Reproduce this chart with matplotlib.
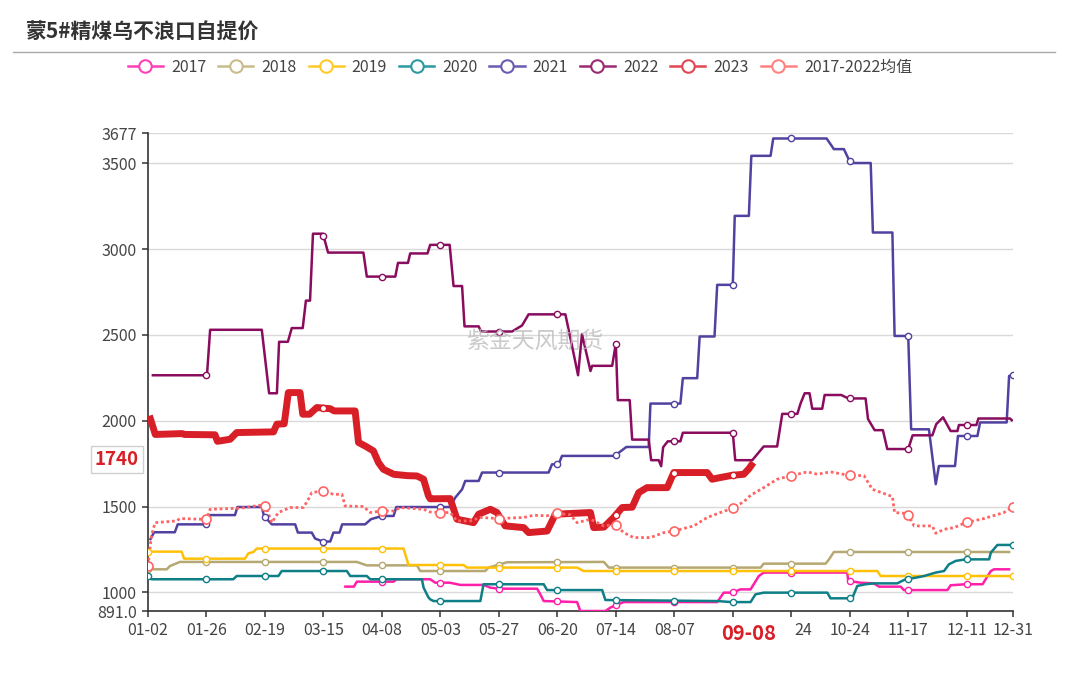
import numpy as np
import matplotlib
matplotlib.use("Agg")
import matplotlib.pyplot as plt
from matplotlib.lines import Line2D
import matplotlib.transforms as mtransforms

plt.rcParams['font.family'] = ['Noto Sans CJK SC', 'DejaVu Sans']

# category index on the x axis (one category per trading day)
tick_idx = [0, 24, 48, 72, 96, 120, 144, 168, 192, 216, 240, 264, 288, 312, 336, 355]
# 08-31 and the "09-" of 09-24 sit under the highlighted 09-08 label in the reference
tick_labels = ['01-02', '01-26', '02-19', '03-15', '04-08', '05-03', '05-27', '06-20',
               '07-14', '08-07', '', '24', '10-24', '11-17', '12-11', '12-31']

x2017 = [81, 84.5, 85.7, 100.8, 102, 115.8, 117.9, 123.8, 128.2, 137.7, 140.5, 143.9, 159.7, 161, 162.4,
         176.1, 177.4, 187.7, 189.8, 191.8, 195.2, 233.6, 236.3, 239.5, 243.2, 247.3, 250.7, 252.7, 287,
         287.4, 292.4, 297.9, 300, 308.9, 310.2, 328.1, 329.4, 335.6, 342.5, 345.9, 347.2, 353.4]
y2017 = [1033, 1033, 1062, 1062, 1076, 1076, 1056, 1056, 1043, 1043, 1027, 1021, 1021, 988, 949,
         943, 891, 891, 911, 924, 943, 943, 998, 998, 1017, 1017, 1095, 1115, 1115,
         1066, 1056, 1052, 1033, 1033, 1013, 1013, 1041, 1047, 1047, 1124, 1134, 1134]

x2018 = [0, 7.7, 9, 13.1, 85.7, 89.8, 110.4, 111.7, 138.4, 139.8, 147.3, 187.1, 189.1, 251.4, 252.7,
         278.1, 279.4, 281.5, 353.4]
y2018 = [1134, 1134, 1153, 1177, 1177, 1157, 1157, 1124, 1124, 1144, 1175, 1177, 1144, 1144, 1167,
         1167, 1190, 1235, 1235]

x2019 = [0, 13.8, 14.8, 39.8, 41.2, 43.3, 44.6, 104.9, 106.9, 129.5, 130.9, 176.1, 178.8, 299.3, 300.7, 355]
y2019 = [1237, 1237, 1196, 1196, 1227, 1235, 1255, 1255, 1159, 1159, 1144, 1144, 1124, 1124, 1095, 1095]

x2020 = [0, 1.4, 35, 36.4, 53.5, 54.9, 81.6, 83, 89.8, 91.2, 112.4, 113.1, 115.1, 115.8, 117.2, 136.4,
         137.7, 162.4, 163.8, 186.4, 187.7, 233.6, 239.5, 247.3, 249.3, 252.7, 278.8, 280.1, 289, 291.1,
         294.5, 297.9, 307.5, 310.9, 315, 318.5, 323.3, 326.7, 328.7, 331.5, 335.6, 345.2, 345.9, 348.6, 355]
y2020 = [1095, 1076, 1076, 1095, 1095, 1124, 1124, 1095, 1095, 1076, 1076, 1027, 970, 959, 949, 949,
         1047, 1047, 1013, 1013, 955, 949, 943, 943, 988, 998, 998, 965, 965, 1037,
         1047, 1052, 1052, 1076, 1085, 1095, 1115, 1124, 1163, 1183, 1192, 1192, 1231, 1276, 1276]

x2021 = [1, 2.5, 11, 12.2, 24, 24.9, 35.7, 36.7, 46.7, 47.6, 50.8, 60.4, 61.5, 67.2, 68.6, 71.8, 74.8,
         76.1, 78.6, 79.7, 89.1, 91.5, 96, 100.8, 101.9, 124, 126.1, 128.9, 130.2, 135.7, 137.1, 164.4,
         165.8, 168.5, 169.9, 191.5, 196.3, 205.5, 206.2, 218.5, 219.5, 225.4, 226.4, 232.5, 233.6, 240,
         240.8, 246.6, 247.6, 255.5, 256.6, 278.5, 281.5, 285.6, 288.3, 296.6, 297.5, 305.5, 306.4, 312,
         313.2, 320.5, 323.3, 324.6, 331.2, 332.4, 340.4, 341.5, 352.4, 353.4, 355]
y2021 = [1310, 1350, 1350, 1396, 1396, 1450, 1450, 1497, 1497, 1445, 1396, 1396, 1348, 1348, 1313, 1296, 1296,
         1348, 1348, 1396, 1396, 1426, 1445, 1445, 1497, 1497, 1552, 1600, 1649, 1649, 1698, 1698,
         1746, 1746, 1795, 1795, 1847, 1847, 2100, 2100, 2248, 2248, 2491, 2491, 2792, 2792,
         3194, 3194, 3544, 3544, 3645, 3645, 3583, 3583, 3502, 3502, 3097, 3097, 2494, 2494,
         1950, 1950, 1630, 1736, 1736, 1911, 1911, 1990, 1990, 2261, 2265]

x2022 = [2, 24.2, 25.5, 46.7, 49.7, 52.9, 53.8, 57.4, 59.0, 63.5, 64.8, 66.5, 67.7, 71.8, 73.9, 88.4,
         89.8, 101.5, 102.6, 106.7, 107.6, 114.7, 115.8, 123.8, 125.4, 128.9, 129.9, 135.7, 136.7, 149.4,
         153.5, 156.2, 171.3, 174.4, 176.5, 178.1, 181.6, 182.3, 190.5, 192, 192.8, 197.7, 198.7, 205.5,
         206.5, 209.6, 210.6, 211.4, 213.3, 218.5, 219.5, 240, 241, 248.0, 252.7, 258.2, 260.3, 266.5,
         267.8, 269.5, 271.5, 272.6, 276.7, 277.7, 284.5, 287.4, 294.5, 295.5, 298.2, 301.6, 303.4, 312,
         313.8, 321.9, 323.5, 326.3, 329.4, 332.2, 332.8, 340.0, 340.8, 353.8, 354.5]
y2022 = [2265, 2265, 2530, 2530, 2160, 2160, 2460, 2460, 2540, 2540, 2700, 2700, 3090, 3090, 2980, 2980,
         2840, 2840, 2920, 2920, 2975, 2975, 3025, 3025, 2785, 2785, 2550, 2550, 2520, 2520,
         2555, 2620, 2620, 2410, 2265, 2505, 2290, 2320, 2320, 2450, 2120, 2120, 1890, 1890,
         1770, 1770, 1735, 1845, 1880, 1880, 1930, 1930, 1770, 1770, 1850, 1850, 2040, 2040,
         2100, 2160, 2160, 2070, 2070, 2150, 2150, 2130, 2130, 2010, 1945, 1945, 1835, 1835,
         1915, 1915, 1980, 2020, 1940, 1940, 1975, 1975, 2013, 2013, 2003]

x2023 = [1, 3, 14, 15, 27.5, 28.5, 33.7, 36.4, 51.5, 52.9, 55.9, 57.6, 62.4, 63.5, 66.3, 69.3, 74.8, 76.4,
         85, 86.4, 89.1, 92.5, 94.6, 96.6, 100.8, 106.3, 110.4, 113.1, 115.1, 115.8, 124, 126.8, 133.6,
         135.7, 140.5, 143.2, 146.6, 154.2, 156.2, 163.8, 167.2, 181.6, 182.9, 187.1, 191.1, 194.6, 198.7,
         201.4, 204.8, 213.1, 215.8, 229.5, 231.5, 234.9, 239.8, 244.5, 246.6, 247.6]
y2023 = [2010, 1920, 1925, 1920, 1918, 1880, 1892, 1931, 1935, 1980, 1982, 2164, 2164, 2038, 2038, 2077, 2070, 2057,
         2057, 1873, 1853, 1824, 1756, 1717, 1688, 1680, 1678, 1659, 1562, 1545, 1546, 1426, 1406,
         1455, 1484, 1465, 1387, 1377, 1348, 1357, 1455, 1465, 1377, 1380, 1436, 1494, 1496,
         1581, 1610, 1610, 1698, 1698, 1659, 1669, 1682, 1688, 1720, 1740]

x_mean = [0, 1.4, 2.9, 11.8, 13.1, 24, 25.5, 37.8, 46, 48.2, 50.8, 53.5, 58.3, 63.8, 65.8, 67.2, 71.8, 76.1,
          79.6, 80.9, 88.4, 91.2, 96, 100.8, 103.5, 113.1, 115.8, 119.9, 124, 126.8, 132.3, 136.4, 143.9,
          154.2, 158.3, 163.8, 167.6, 173.3, 176.1, 181.6, 187.1, 191.8, 195.2, 199.3, 206.2, 211.7, 215.8,
          224, 229.5, 234.9, 239.5, 244.5, 247.3, 252.7, 258.2, 263.4, 270.6, 274.7, 280.1, 287.4, 293.8,
          297.3, 305.5, 306.4, 311.6, 314.4, 321.9, 323.3, 326.7, 330.8, 335.6, 343.1, 351.3, 355]
y_mean = [1153, 1328, 1406, 1416, 1430, 1425, 1484, 1490, 1507, 1505, 1406, 1465, 1494, 1494, 1542, 1581, 1591, 1571,
          1571, 1503, 1500, 1465, 1474, 1474, 1494, 1484, 1468, 1465, 1465, 1416, 1416, 1436, 1430,
          1436, 1449, 1446, 1460, 1452, 1406, 1426, 1387, 1396, 1348, 1319, 1319, 1348, 1357,
          1387, 1436, 1465, 1488, 1527, 1565, 1610, 1659, 1678, 1702, 1688, 1702, 1682, 1680,
          1600, 1558, 1465, 1459, 1387, 1387, 1344, 1367, 1377, 1406, 1430, 1465, 1500]

last_value = 1740
last_date = '09-08'
y_ticks = [891, 1000, 1500, 2000, 2500, 3000, 3500, 3677]

# tick positions where a series shows no symbol in the reference
no_symbol = {'2022': [48], '2023': [0, 24, 48, 96, 120, 144, 168]}

series = [
    ('2017', x2017, y2017, '#ff1fa9', 1.8, '-'),
    ('2018', x2018, y2018, '#b6a872', 1.8, '-'),
    ('2019', x2019, y2019, '#ffc107', 1.8, '-'),
    ('2020', x2020, y2020, '#0e7f87', 1.8, '-'),
    ('2021', x2021, y2021, '#5141a0', 1.8, '-'),
    ('2022', x2022, y2022, '#8a0c5e', 1.8, '-'),
    ('2023', x2023, y2023, '#d81e26', 5.0, '-'),
    ('2017-2022均值', x_mean, y_mean, '#ff6464', 2.0, (0, (1, 1))),
]
legend_colors = ['#ff3fb8', '#c9bc8c', '#ffc928', '#2a9aa0', '#6a5cb0', '#9a2a72', '#e24652', '#ff8282']

fig = plt.figure(figsize=(10.69, 6.93), dpi=100)
ax = fig.add_axes([148 / 1069, 82 / 693, 865 / 1069, 478 / 693])

for name, xs, ys, color, lw, ls in series:
    ax.plot(xs, ys, color=color, lw=lw, ls=ls, solid_joinstyle='round', zorder=3)
    tk = [t for t in tick_idx if xs[0] <= t <= xs[-1] and t not in no_symbol.get(name, [])]
    big = name.startswith('2017-')
    ax.plot(tk, np.interp(tk, xs, ys), ls='none', marker='o', ms=6.5 if big else 4.5,
            mfc='white', mec=color, mew=1.2 if big else 1.0, zorder=4)

ax.set_xlim(0, 355)
ax.set_ylim(891, 3677)
ax.set_yticks(y_ticks)
ax.set_yticklabels(['891.0'] + [str(v) for v in y_ticks[1:]])
ax.set_xticks(tick_idx)
ax.set_xticklabels(tick_labels)
ax.grid(axis='y', color='#d9d9d9', lw=1)
ax.set_axisbelow(True)
for s in ['top', 'right']:
    ax.spines[s].set_visible(False)
for s in ['left', 'bottom']:
    ax.spines[s].set_color('#333333')
    ax.spines[s].set_linewidth(1.2)
ax.tick_params(axis='both', colors='#333333', length=4, width=1.1, labelsize=11.5,
               labelcolor='#444444', pad=4)
# the visible "24" is the right half of 09-24, pushed right by the 09-08 label
lbl = ax.get_xticklabels()[11]
lbl.set_transform(lbl.get_transform() + mtransforms.ScaledTranslation(12 / 100, 0, fig.dpi_scale_trans))

# watermark
fig.text(535 / 1069, 1 - 341 / 693, '紫金天风期货', fontsize=16.5, color='#bdbdbd', alpha=0.8,
         ha='center', va='center')

# title and separator
fig.text(25 / 1069, 1 - 32 / 693, '蒙5#精煤乌不浪口自提价', fontsize=15, weight='bold',
         color='#333333', va='center')
fig.add_artist(Line2D([13 / 1069, 1055 / 1069], [1 - 52 / 693] * 2, color='#aaaaaa', lw=1))

# legend
handles = [Line2D([], [], color=c, lw=1.8, marker='o', ms=9, mfc='white', mec=c, mew=1.5)
           for c in legend_colors]
fig.legend(handles, [s[0] for s in series], loc='center', bbox_to_anchor=(520 / 1069, 1 - 67 / 693),
           ncol=8, frameon=False, fontsize=11.5, handlelength=2.2, handletextpad=0.5,
           columnspacing=0.75, labelcolor='#444444')

# last value marker on the y axis
trans = mtransforms.blended_transform_factory(ax.transAxes, ax.transData)
ax.text(-0.036, last_value, str(last_value), transform=mtransforms.offset_copy(trans, fig=fig, y=6, units='dots'),
        ha='center', va='center', fontsize=13.5, weight='bold', color='#d81e26', clip_on=False,
        bbox=dict(boxstyle='square,pad=0.2', fc='white', ec='#d0d0d0', lw=1))

# last date label on the x axis
fig.text(749 / 1069, 1 - 633 / 693, last_date, fontsize=14.5, weight='bold', color='#d81e26',
         ha='center', va='center')

fig.savefig('out.png', dpi=100)
